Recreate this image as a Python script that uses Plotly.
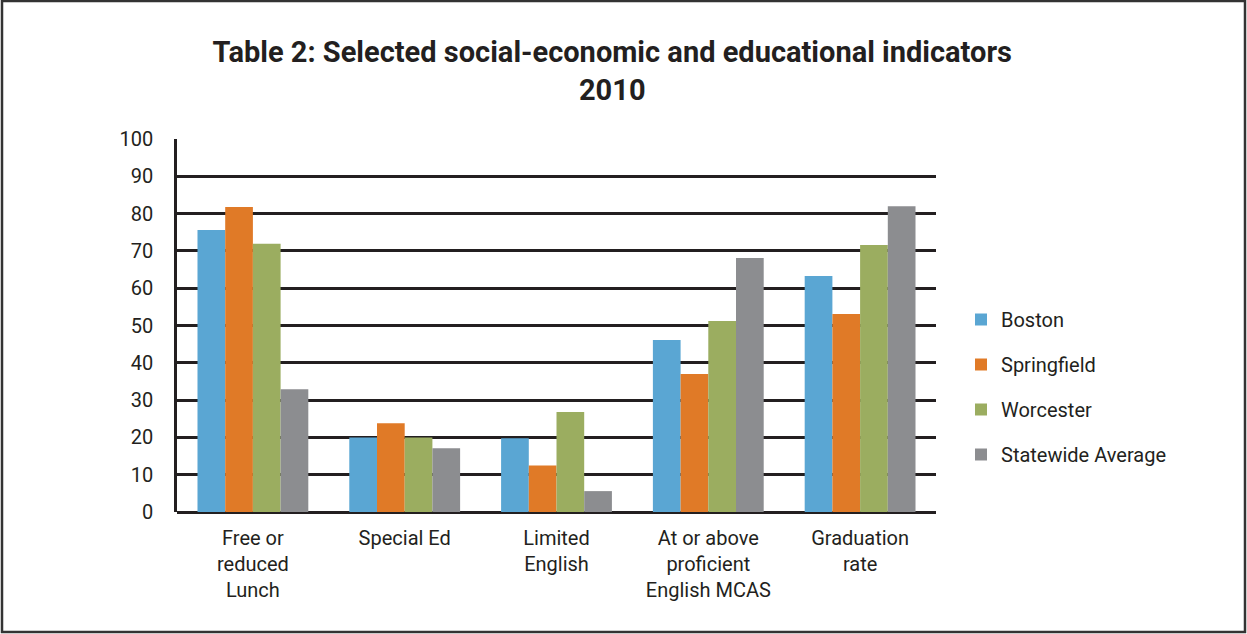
import plotly.graph_objects as go

categories = ["Free or<br>reduced<br>Lunch", "Special Ed", "Limited<br>English",
              "At or above<br>proficient<br>English MCAS", "Graduation<br>rate"]
boston = [75.6, 20, 19.8, 46.1, 63.3]
springfield = [81.8, 23.8, 12.5, 37.0, 53.1]
worcester = [71.9, 20, 26.8, 51.2, 71.6]
statewide = [32.9, 17.1, 5.6, 68.1, 82.0]
series_names = ["Boston", "Springfield", "Worcester", "Statewide Average"]
series_values = [boston, springfield, worcester, statewide]
colors = ["#5aa6d3", "#e07a27", "#9bad60", "#8c8d90"]
y_ticks = list(range(0, 101, 10))

FONT = "Roboto"
TXT = "#231f20"

fig = go.Figure()
for i, (name, vals, col) in enumerate(zip(series_names, series_values, colors)):
    fig.add_trace(go.Bar(x=categories, y=vals, name=name, marker_color=col,
                         marker_line_width=0, legendgroup=f"g{i}"))

W, H = 1247, 634
L, R, T, B = 177, 311, 139, 122
pw, ph = W - L - R, H - T - B

def px2x(p):
    return (p - L) / pw

def px2y(p):
    return (H - B - p) / ph

fig.update_layout(
    width=W, height=H,
    margin=dict(l=L, r=R, t=T, b=B),
    paper_bgcolor="white", plot_bgcolor="white",
    barmode="group", bargap=0.27, bargroupgap=0,
    font=dict(family=FONT, color=TXT, size=20),
    title=dict(text="<b>Table 2: Selected social-economic and educational indicators<br>2010</b>",
               x=0.491, xanchor="center", y=1 - 62 / H, yanchor="top",
               font=dict(family=FONT, size=29, color=TXT)),
    xaxis=dict(showgrid=False, showline=False, ticks="", ticklabelstandoff=12,
               tickfont=dict(size=20, color=TXT), fixedrange=True),
    yaxis=dict(range=[0, 100], tickvals=y_ticks, showgrid=True, gridcolor="#231f20",
               gridwidth=2.5, showline=True, linecolor="#231f20", linewidth=2.5,
               zeroline=True, zerolinecolor="#231f20", zerolinewidth=3,
               ticks="", ticklabelstandoff=17, tickfont=dict(size=20, color=TXT)),
    legend=dict(x=px2x(961), xanchor="left", y=px2y(300), yanchor="top",
                font=dict(size=20, color=TXT), tracegroupgap=16,
                itemwidth=30, bgcolor="rgba(0,0,0,0)"),
    showlegend=True,
    shapes=[dict(type="rect", xref="paper", yref="paper",
                 x0=px2x(2), x1=px2x(1245), y0=px2y(632), y1=px2y(1),
                 line=dict(color="#333333", width=2.5), layer="below")],
)

fig.write_html("out.html", config={"displayModeBar": False},
               post_script="document.body.style.margin='0';document.body.style.overflow='hidden';")
